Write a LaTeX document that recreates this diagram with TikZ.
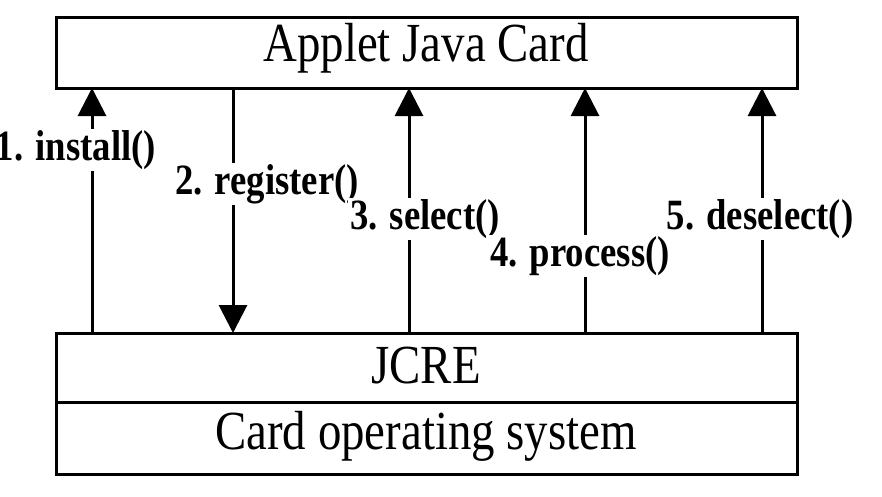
\documentclass[tikz,border=0pt]{standalone}
\usepackage{fontspec}
\setmainfont{Liberation Serif}[FakeStretch=0.85]
\usetikzlibrary{arrows.meta}
\begin{document}
\begin{tikzpicture}[x=1pt,y=-1pt,
  box/.style={draw,line width=3pt},
  arr/.style={line width=3pt,-{Triangle[width=28pt,length=28pt]}},
  lab/.style={fill=white,inner sep=1pt,scale=1.6,font=\bfseries\fontsize{27}{27}\selectfont},
  big/.style={scale=1.45,font=\fontsize{38}{38}\selectfont}]
\useasboundingbox (0,0) rectangle (882,496);
\draw[box] (56,17) rectangle (797,88);
\node[big] (app) at (426,48) {Applet Java Card};
\draw[box] (56,333) rectangle (797,474);
\draw[line width=3pt] (56,402) -- (797,402);
\node[big] (jcre) at (426,366) {JCRE};
\node[big] (os) at (426,436) {Card operating system};
\coordinate (b1) at (92,333); \coordinate (t1) at (92,88);
\coordinate (b2) at (233,333); \coordinate (t2) at (233,88);
\coordinate (b3) at (409,333); \coordinate (t3) at (409,88);
\coordinate (b4) at (585,333); \coordinate (t4) at (585,88);
\coordinate (b5) at (762,333); \coordinate (t5) at (762,88);
\draw[arr] (b1) -- (t1);
\draw[arr] (t2) -- (b2);
\draw[arr] (b3) -- (t3);
\draw[arr] (b4) -- (t4);
\draw[arr] (b5) -- (t5);
\node[lab] (l1) at (76,150) {1. install()};
\node[lab] (l2) at (267,184) {2. register()};
\node[lab] (l3) at (425,219) {3. select()};
\node[lab] (l4) at (580,256) {4. process()};
\node[lab] (l5) at (760,219) {5. deselect()};
\end{tikzpicture}
\end{document}
